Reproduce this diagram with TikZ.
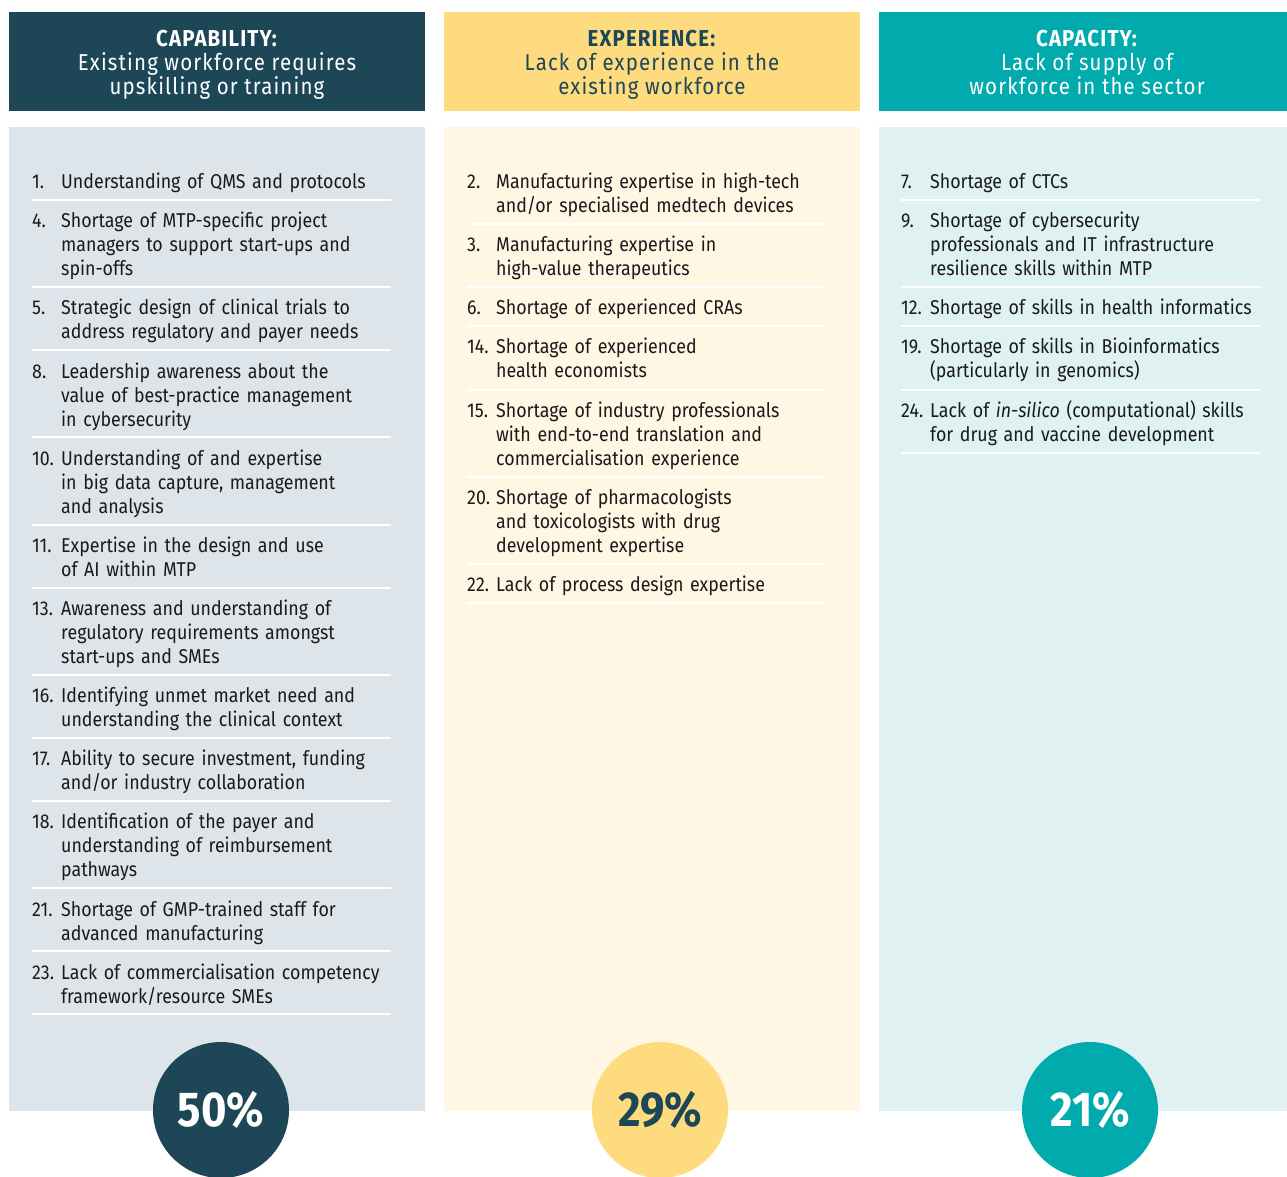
\documentclass[tikz,border=0pt]{standalone}
\usepackage{fontspec}
\setmainfont{Fira Sans}[FakeStretch=0.89]
\usepackage{tikz}

\definecolor{capdark}{HTML}{1D4757}
\definecolor{expyellow}{HTML}{FEDB7E}
\definecolor{capteal}{HTML}{00AAAD}
\definecolor{capback}{HTML}{DDE5EB}
\definecolor{expback}{HTML}{FFF6E4}
\definecolor{tealback}{HTML}{E0F1F1}
\definecolor{itemtext}{HTML}{1A1A1A}

\begin{document}
\begin{tikzpicture}[x=1pt,y=-1pt,
  head/.style={inner sep=0pt, align=center, font=\fontsize{23}{24}\selectfont\addfontfeature{LetterSpace=5}},
  num/.style={anchor=base west, inner sep=0pt, text=itemtext, font=\fontsize{20}{24}\selectfont},
  item/.style={anchor=base west, inner sep=0pt, text width=370pt, align=left, text=itemtext, font=\fontsize{20}{24}\selectfont},
  rule/.style={draw=white, line width=1.5pt},
  pct/.style={circle, minimum size=136pt, inner sep=0pt, font=\bfseries\fontsize{49}{52}\selectfont}]
\useasboundingbox (0,0) rectangle (1287,1176);

% headers
\fill[capdark] (9,12) rectangle (425,111);
\fill[expyellow] (444,12) rectangle (860,111);
\fill[capteal] (879,12) rectangle (1287,111);
\node[head, text=white] (capHead) at (217,64.5) {\textbf{CAPABILITY:}\\Existing workforce requires\\upskilling or training};
\node[head, text=capdark] (expHead) at (652,64.5) {\textbf{EXPERIENCE:}\\Lack of experience in the\\existing workforce};
\node[head, text=white] (cpyHead) at (1087,62.5) {\textbf{CAPACITY:}\\Lack of supply of\\workforce in the sector};

% panels
\fill[capback] (9,127) rectangle (425,1111);
\fill[expback] (444,127) rectangle (860,1111);
\fill[tealback] (879,127) rectangle (1287,1111);

% capability items
\node[num] (n1) at (32,188) {1.};
\node[item] (i1) at (61,188) {Understanding of QMS and protocols};
\draw[rule] (32,200) -- (391,200);
\node[num] (n4) at (32,227) {4.};
\node[item] (i4) at (61,227) {Shortage of MTP-specific project\\managers to support start-ups and\\spin-offs};
\draw[rule] (32,287) -- (391,287);
\node[num] (n5) at (32,314) {5.};
\node[item] (i5) at (61,314) {Strategic design of clinical trials to\\address regulatory and payer needs};
\draw[rule] (32,350) -- (391,350);
\node[num] (n8) at (32,378) {8.};
\node[item] (i8) at (61,378) {Leadership awareness about the\\value of best-practice management\\in cybersecurity};
\draw[rule] (32,437) -- (391,437);
\node[num] (n10) at (32,465) {10.};
\node[item] (i10) at (61,465) {Understanding of and expertise\\in big data capture, management\\and analysis};
\draw[rule] (32,525) -- (391,525);
\node[num] (n11) at (32,552) {11.};
\node[item] (i11) at (61,552) {Expertise in the design and use\\of AI within MTP};
\draw[rule] (32,588) -- (391,588);
\node[num] (n13) at (32,615) {13.};
\node[item] (i13) at (61,615) {Awareness and understanding of\\regulatory requirements amongst\\start-ups and SMEs};
\draw[rule] (32,675) -- (391,675);
\node[num] (n16) at (32,702) {16.};
\node[item] (i16) at (61,702) {Identifying unmet market need and\\understanding the clinical context};
\draw[rule] (32,738) -- (391,738);
\node[num] (n17) at (32,765) {17.};
\node[item] (i17) at (61,765) {Ability to secure investment, funding\\and/or industry collaboration};
\draw[rule] (32,801) -- (391,801);
\node[num] (n18) at (32,828) {18.};
\node[item] (i18) at (61,828) {Identification of the payer and\\understanding of reimbursement\\pathways};
\draw[rule] (32,888) -- (391,888);
\node[num] (n21) at (32,916) {21.};
\node[item] (i21) at (61,916) {Shortage of GMP-trained staff for\\advanced manufacturing};
\draw[rule] (32,951) -- (391,951);
\node[num] (n23) at (32,979) {23.};
\node[item] (i23) at (61,979) {Lack of commercialisation competency\\framework/resource SMEs};
\draw[rule] (32,1014) -- (391,1014);

% experience items
\node[num] (n2) at (467,188) {2.};
\node[item] (i2) at (496,188) {Manufacturing expertise in high-tech\\and/or specialised medtech devices};
\draw[rule] (467,224) -- (826,224);
\node[num] (n3) at (467,251) {3.};
\node[item] (i3) at (496,251) {Manufacturing expertise in\\high-value therapeutics};
\draw[rule] (467,287) -- (826,287);
\node[num] (n6) at (467,314) {6.};
\node[item] (i6) at (496,314) {Shortage of experienced CRAs};
\draw[rule] (467,326) -- (826,326);
\node[num] (n14) at (467,353) {14.};
\node[item] (i14) at (496,353) {Shortage of experienced\\health economists};
\draw[rule] (467,390) -- (826,390);
\node[num] (n15) at (467,417) {15.};
\node[item] (i15) at (496,417) {Shortage of industry professionals\\with end-to-end translation and\\commercialisation experience};
\draw[rule] (467,477) -- (826,477);
\node[num] (n20) at (467,504) {20.};
\node[item] (i20) at (496,504) {Shortage of pharmacologists\\and toxicologists with drug\\development expertise};
\draw[rule] (467,564) -- (826,564);
\node[num] (n22) at (467,591) {22.};
\node[item] (i22) at (496,591) {Lack of process design expertise};
\draw[rule] (467,603) -- (826,603);

% capacity items
\node[num] (n7) at (901,188) {7.};
\node[item] (i7) at (930,188) {Shortage of CTCs};
\draw[rule] (901,200) -- (1260,200);
\node[num] (n9) at (901,227) {9.};
\node[item] (i9) at (930,227) {Shortage of cybersecurity\\professionals and IT infrastructure\\resilience skills within MTP};
\draw[rule] (901,287) -- (1260,287);
\node[num] (n12) at (901,314) {12.};
\node[item] (i12) at (930,314) {Shortage of skills in health informatics};
\draw[rule] (901,326) -- (1260,326);
\node[num] (n19) at (901,353) {19.};
\node[item] (i19) at (930,353) {Shortage of skills in Bioinformatics\\(particularly in genomics)};
\draw[rule] (901,390) -- (1260,390);
\node[num] (n24) at (901,417) {24.};
\node[item] (i24) at (930,417) {Lack of \textit{in-silico} (computational) skills\\for drug and vaccine development};
\draw[rule] (901,453) -- (1260,453);

% shares
\node[pct, fill=capdark, text=white] (capPct) at (221,1110) {50\%};
\node[pct, fill=expyellow, text=capdark] (expPct) at (660,1110) {29\%};
\node[pct, fill=capteal, text=white] (cpyPct) at (1090,1110) {21\%};

\end{tikzpicture}
\end{document}
